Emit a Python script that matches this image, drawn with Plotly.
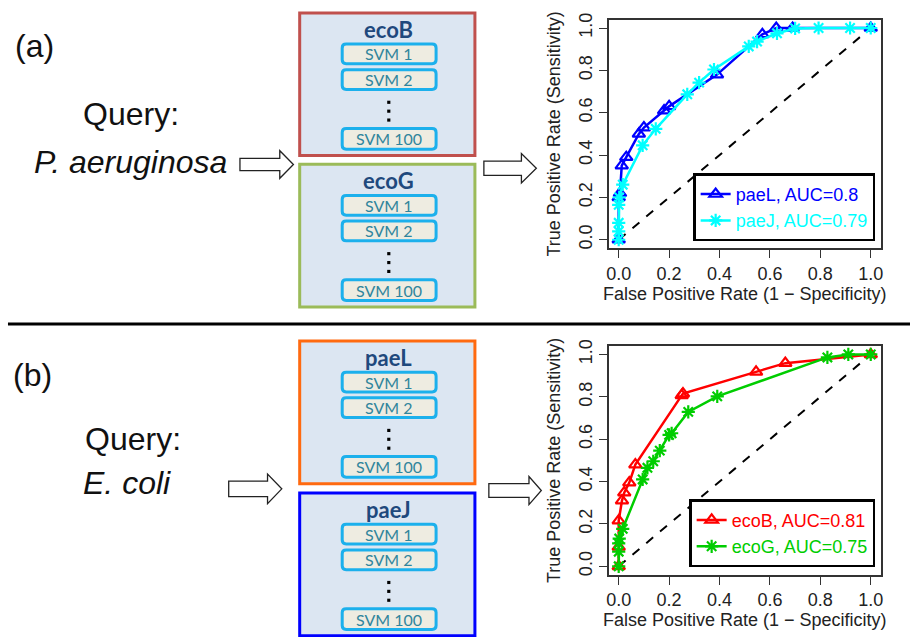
import plotly.graph_objects as go

W, H = 912, 637

# ---------------- ROC data ----------------
diag = [0, 1]

paeL_fpr = [0.0, 0.0, 0.005, 0.012, 0.03, 0.08, 0.10, 0.18, 0.20, 0.39, 0.57, 0.625, 0.69, 1.0]
paeL_tpr = [0.0, 0.20, 0.22, 0.35, 0.39, 0.50, 0.53, 0.61, 0.63, 0.78, 0.97, 1.0, 1.0, 1.0]

paeJ_fpr = [0.0, 0.0, 0.0, 0.0, 0.002, 0.016, 0.095, 0.147, 0.272, 0.319, 0.378, 0.516, 0.549, 0.628, 0.70, 0.793, 0.918, 1.0]
paeJ_tpr = [0.0, 0.04, 0.08, 0.165, 0.20, 0.26, 0.446, 0.524, 0.687, 0.742, 0.804, 0.913, 0.936, 0.975, 0.998, 1.0, 1.0, 1.0]

ecoB_fpr = [0.0, 0.0, 0.0, 0.013, 0.022, 0.042, 0.066, 0.25, 0.255, 0.545, 0.661, 1.0]
ecoB_tpr = [0.0, 0.092, 0.216, 0.31, 0.348, 0.395, 0.48, 0.807, 0.815, 0.918, 0.959, 1.0]

ecoG_fpr = [0.0, 0.0, 0.0, 0.002, 0.016, 0.095, 0.114, 0.137, 0.163, 0.20, 0.21, 0.276, 0.391, 0.828, 0.911, 1.0]
ecoG_tpr = [0.0, 0.069, 0.108, 0.131, 0.177, 0.41, 0.465, 0.496, 0.546, 0.62, 0.628, 0.729, 0.802, 0.986, 1.0, 1.0]

tick_vals = [0.0, 0.2, 0.4, 0.6, 0.8, 1.0]
tick_text = ["0.0", "0.2", "0.4", "0.6", "0.8", "1.0"]

# ---------------- diagram text ----------------
panel_labels = ["(a)", "(b)"]
query_species = ["<i>P. aeruginosa</i>", "<i>E. coli</i>"]
model_names = ["ecoB", "ecoG", "paeL", "paeJ"]
svm_labels = ["SVM 1", "SVM 2", "SVM 100"]


def px(x):
    return x / W


def py(y):
    return 1 - y / H


fig = go.Figure()

RFONT = "Liberation Sans, Arial, sans-serif"
CFONT = "Lato, Open Sans, sans-serif"

# ----- top ROC -----
fig.add_trace(go.Scatter(x=diag, y=diag, mode="lines", xaxis="x", yaxis="y",
                         line=dict(color="black", dash="dash", width=2),
                         showlegend=False, hoverinfo="skip"))
fig.add_trace(go.Scatter(x=paeL_fpr, y=paeL_tpr, mode="lines+markers", xaxis="x", yaxis="y",
                         name='<span style="color:#0000FF">paeL, AUC=0.8</span>',
                         line=dict(color="#0000FF", width=2.5),
                         marker=dict(symbol="triangle-up-open", size=11, color="#0000FF",
                                     line=dict(width=2.2, color="#0000FF")),
                         legend="legend"))
fig.add_trace(go.Scatter(x=paeJ_fpr, y=paeJ_tpr, mode="lines+markers", xaxis="x", yaxis="y",
                         name='<span style="color:#00FFFF">paeJ, AUC=0.79</span>',
                         line=dict(color="#00FFFF", width=2.5),
                         marker=dict(symbol="asterisk-open", size=11, color="#00FFFF",
                                     line=dict(width=2.2, color="#00FFFF")),
                         legend="legend"))

# ----- bottom ROC -----
fig.add_trace(go.Scatter(x=diag, y=diag, mode="lines", xaxis="x2", yaxis="y2",
                         line=dict(color="black", dash="dash", width=2),
                         showlegend=False, hoverinfo="skip"))
fig.add_trace(go.Scatter(x=ecoB_fpr, y=ecoB_tpr, mode="lines+markers", xaxis="x2", yaxis="y2",
                         name='<span style="color:#FF0000">ecoB, AUC=0.81</span>',
                         line=dict(color="#FF0000", width=2.5),
                         marker=dict(symbol="triangle-up-open", size=11, color="#FF0000",
                                     line=dict(width=2.2, color="#FF0000")),
                         legend="legend2"))
fig.add_trace(go.Scatter(x=ecoG_fpr, y=ecoG_tpr, mode="lines+markers", xaxis="x2", yaxis="y2",
                         name='<span style="color:#00CD00">ecoG, AUC=0.75</span>',
                         line=dict(color="#00CD00", width=2.5),
                         marker=dict(symbol="asterisk-open", size=11, color="#00CD00",
                                     line=dict(width=2.2, color="#00CD00")),
                         legend="legend2"))

AX_RANGE = [-0.04, 1.04]
xdom = [px(609.3), px(882.7)]
ydom_top = [py(244.3), py(12.7)]
ydom_bot = [py(575.0), py(343.3)]


def xax(anchor):
    return dict(domain=xdom, anchor=anchor, range=AX_RANGE, tickvals=tick_vals, ticktext=tick_text,
                showline=True, mirror=True, linecolor="#333333", linewidth=1.5,
                ticks="outside", ticklen=8, tickwidth=1.2, tickcolor="#333333",
                showgrid=False, zeroline=False,
                tickfont=dict(family=RFONT, size=18, color="#222222"),
                title=dict(text="False Positive Rate (1 \u2212 Specificity)", standoff=4,
                           font=dict(family=RFONT, size=18, color="#222222")))


def yax(anchor, dom):
    return dict(domain=dom, anchor=anchor, range=AX_RANGE, tickvals=tick_vals, ticktext=tick_text,
                showline=True, mirror=True, linecolor="#333333", linewidth=1.5,
                ticks="outside", ticklen=8, tickwidth=1.2, tickcolor="#333333",
                showgrid=False, zeroline=False, tickangle=-90,
                tickfont=dict(family=RFONT, size=18, color="#222222"),
                title=dict(text="True Positive Rate (Sensitivity)", standoff=10,
                           font=dict(family=RFONT, size=18, color="#222222")))


legend_common = dict(xanchor="right", yanchor="bottom", bgcolor="white",
                     bordercolor="black", borderwidth=2.5, itemwidth=30,
                     font=dict(family=RFONT, size=18), tracegroupgap=0)

fig.update_layout(
    width=W, height=H,
    margin=dict(l=0, r=0, t=0, b=0),
    paper_bgcolor="white", plot_bgcolor="white",
    xaxis=xax("y"), yaxis=yax("x", ydom_top),
    xaxis2=xax("y2"), yaxis2=yax("x2", ydom_bot),
    legend=dict(x=px(877), y=py(237.3), **legend_common),
    legend2=dict(x=px(877), y=py(567.3), **legend_common),
)

# ---------------- diagram (left part) ----------------
shapes = []
annotations = []

# separator line
shapes.append(dict(type="line", xref="paper", yref="paper", x0=px(6), x1=px(912),
                   y0=py(321), y1=py(321), line=dict(color="black", width=3)))

# model boxes
box_tops = [6.0, 159.3, 338.3, 492.3]
box_colors = ["#C0504D", "#9BBB59", "#FF6A10", "#0000FF"]
BOX_X0, BOX_X1, BOX_H = 299, 475, 144.5
SVM_X0, SVM_X1 = 341.7, 436
svm_offsets = [(31.5, 51.5), (57.5, 77.5), (117.0, 138.0)]
dot_offsets = [90.5, 99.5, 108.5]
CX = 388.5


def rounded_rect(x0, y0, x1, y1, r=4):
    return (f"M {px(x0 + r)},{py(y0)} L {px(x1 - r)},{py(y0)} "
            f"Q {px(x1)},{py(y0)} {px(x1)},{py(y0 + r)} "
            f"L {px(x1)},{py(y1 - r)} Q {px(x1)},{py(y1)} {px(x1 - r)},{py(y1)} "
            f"L {px(x0 + r)},{py(y1)} Q {px(x0)},{py(y1)} {px(x0)},{py(y1 - r)} "
            f"L {px(x0)},{py(y0 + r)} Q {px(x0)},{py(y0)} {px(x0 + r)},{py(y0)} Z")


def note(x, y, text, font):
    return dict(x=px(x), y=py(y), xref="paper", yref="paper", text=text, showarrow=False,
                xanchor="center", yanchor="middle", font=font)


for top, col, name in zip(box_tops, box_colors, model_names):
    shapes.append(dict(type="rect", xref="paper", yref="paper",
                       x0=px(BOX_X0), x1=px(BOX_X1), y0=py(top + BOX_H), y1=py(top),
                       fillcolor="#DCE6F2", line=dict(color=col, width=3)))
    annotations.append(note(CX, top + 16.5, f"<b>{name}</b>",
                            dict(family=CFONT, size=22, color="#1F497D")))
    for (a, b), lab in zip(svm_offsets, svm_labels):
        shapes.append(dict(type="path", xref="paper", yref="paper",
                           path=rounded_rect(SVM_X0, top + a, SVM_X1, top + b),
                           fillcolor="#EEECE1", line=dict(color="#1CB0EC", width=3)))
        annotations.append(note(CX, top + (a + b) / 2, lab,
                                dict(family=CFONT, size=16, color="#31859C")))
    for d in dot_offsets:
        shapes.append(dict(type="rect", xref="paper", yref="paper",
                           x0=px(CX - 1.6), x1=px(CX + 1.6), y0=py(top + d + 1.6), y1=py(top + d - 1.6),
                           fillcolor="black", line=dict(width=0)))

# block arrows: (x_left, x_head, x_tip, y_center, body_half, head_half)
arrows = [(239, 279, 292.7, 159.5, 6.2, 14.0),
          (484, 521.7, 536.7, 163.3, 7.2, 15.0),
          (227.7, 266.7, 281, 488.0, 7.8, 15.0),
          (489, 529.3, 541.7, 489.7, 7.0, 14.2)]
for xl, xh, xt, yc, bh, hh in arrows:
    path = (f"M {px(xl)},{py(yc - bh)} L {px(xh)},{py(yc - bh)} L {px(xh)},{py(yc - hh)} "
            f"L {px(xt)},{py(yc)} L {px(xh)},{py(yc + hh)} L {px(xh)},{py(yc + bh)} "
            f"L {px(xl)},{py(yc + bh)} Z")
    shapes.append(dict(type="path", xref="paper", yref="paper", path=path,
                       fillcolor="white", line=dict(color="#222222", width=1.3)))

# left texts
LFONT = dict(family=RFONT, size=32, color="#111111")
annotations += [
    note(32.5, 40, panel_labels[0], LFONT),
    note(130, 108, "Query:", LFONT),
    note(129, 157, query_species[0], LFONT),
    note(30.5, 373, panel_labels[1], LFONT),
    note(131.5, 437, "Query:", LFONT),
    note(126, 482, query_species[1], LFONT),
]

fig.update_layout(shapes=shapes, annotations=annotations)

fig.write_html("out.html")
